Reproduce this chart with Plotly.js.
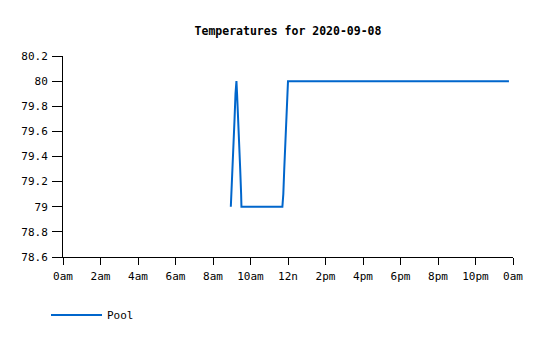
<!DOCTYPE html>
<html>
<head>
<meta charset="utf-8">
<script src="https://cdn.plot.ly/plotly-3.0.1.min.js"></script>
<style>html,body{margin:0;padding:0;background:#fff;}#chart{width:546px;height:340px;}</style>
</head>
<body>
<div id="chart"></div>
<script>
// Pool temperature readings on 2020-09-08 (time of day, °F)
const times = ["08:57","08:59","09:02","09:06","09:09","09:12","09:15","09:17","09:21","09:24","09:27","09:30","09:31",
               "11:42","11:45","11:48","11:51","11:54","11:57","12:00","23:47"];
const poolTemps = [79.0,79.1,79.3,79.5,79.7,79.9,80.0,79.9,79.7,79.5,79.3,79.1,79.0,
                   79.0,79.1,79.3,79.5,79.7,79.9,80.0,80.0];
const tickHours = [0,2,4,6,8,10,12,14,16,18,20,22,24];
const tickLabels = ["0am","2am","4am","6am","8am","10am","12n","2pm","4pm","6pm","8pm","10pm","0am"];
const yTicks = [78.6,78.8,79,79.2,79.4,79.6,79.8,80,80.2];

const toHours = s => { const [h, m] = s.split(":").map(Number); return h + m / 60; };
const xHours = times.map(toHours);

const font = {family: "DejaVu Sans Mono, monospace", size: 11, color: "#000"};

const trace = {
  x: xHours, y: poolTemps, type: "scatter", mode: "lines", name: "Pool",
  line: {color: "#0066cc", width: 2}
};

const layout = {
  width: 546, height: 340,
  margin: {l: 63, r: 33, t: 56, b: 83},
  paper_bgcolor: "#fff", plot_bgcolor: "#fff",
  font: font,
  title: {text: "<b>Temperatures for 2020-09-08</b>", font: {family: "DejaVu Sans Mono, monospace", size: 11.5, color: "#000"},
          x: 0.5, xref: "paper", xanchor: "center", yref: "container", y: 1 - 31/340, yanchor: "middle"},
  xaxis: {
    range: [0, 24], tickmode: "array", tickvals: tickHours, ticktext: tickLabels,
    showgrid: false, zeroline: false, showline: true, linecolor: "#000", linewidth: 1,
    ticks: "outside", ticklen: 7, tickcolor: "#000", tickfont: font, fixedrange: true,
    ticklabelstandoff: 2
  },
  yaxis: {
    range: [78.6, 80.2], tickmode: "array", tickvals: yTicks, ticktext: yTicks.map(String),
    showgrid: false, zeroline: false, showline: true, linecolor: "#000", linewidth: 1,
    ticks: "outside", ticklen: 10, tickcolor: "#000", tickfont: font, fixedrange: true,
    ticklabelstandoff: 2
  },
  showlegend: true,
  legend: {orientation: "h", xref: "container", x: 46/546, xanchor: "left",
           yref: "container", y: 1 - 315/340, yanchor: "middle",
           itemwidth: 51, font: font, bgcolor: "rgba(0,0,0,0)"}
};

Plotly.newPlot("chart", [trace], layout, {displayModeBar: false, staticPlot: true});
</script>
</body>
</html>
